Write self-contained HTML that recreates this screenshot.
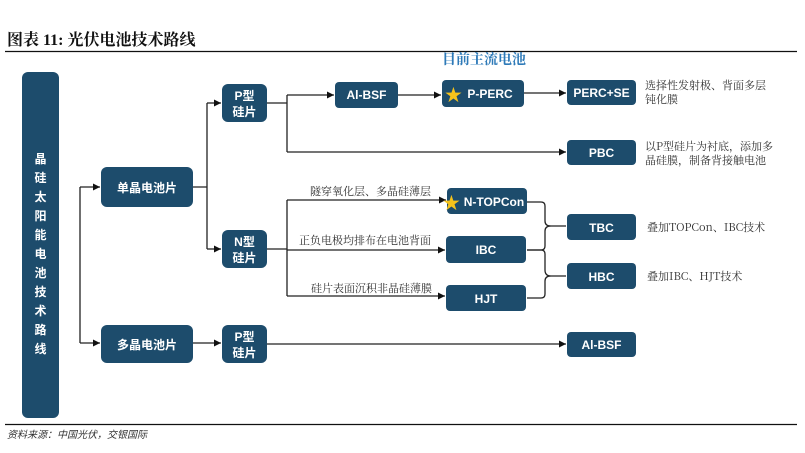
<!DOCTYPE html>
<html><head><meta charset="utf-8"><style>
body{margin:0;background:#fff;width:805px;height:453px;overflow:hidden}
svg{display:block}
.b{fill:#1d4c6c}
.w{fill:#fff;font-family:"Liberation Sans","Noto Sans CJK SC",sans-serif;font-size:12px;font-weight:bold;text-anchor:middle}
.d{fill:#333;font-family:"Noto Serif CJK SC","Noto Sans CJK SC",serif;font-size:11px}
.l{stroke:#222;stroke-width:1.3;fill:none}
</style></head><body>
<svg width="805" height="453" viewBox="0 0 805 453">
<defs><marker id="a" markerWidth="8" markerHeight="8" refX="7" refY="4" orient="auto" markerUnits="userSpaceOnUse"><path d="M0,0.5 L7,4 L0,7.5z" fill="#111"/></marker></defs>
<text x="7" y="45" font-family="Liberation Serif,'Noto Serif CJK SC',serif" font-size="16" font-weight="bold" fill="#111">图表 11: 光伏电池技术路线</text>
<line x1="5" y1="51.5" x2="797" y2="51.5" stroke="#111" stroke-width="1.3"/>
<text x="442" y="64" font-family="'Noto Serif CJK SC',serif" font-size="14" font-weight="bold" fill="#2e7ab8">目前主流电池</text>
<rect class="b" x="22" y="72" width="37" height="346" rx="6"/>
<text class="w" font-size="14" x="40.5"><tspan x="40.5" y="163">晶</tspan><tspan x="40.5" y="182">硅</tspan><tspan x="40.5" y="201">太</tspan><tspan x="40.5" y="220">阳</tspan><tspan x="40.5" y="239">能</tspan><tspan x="40.5" y="258">电</tspan><tspan x="40.5" y="277">池</tspan><tspan x="40.5" y="296">技</tspan><tspan x="40.5" y="315">术</tspan><tspan x="40.5" y="334">路</tspan><tspan x="40.5" y="353">线</tspan></text>
<path class="l" d="M80,187 V343"/>
<path class="l" d="M80,187 H100" marker-end="url(#a)"/>
<path class="l" d="M80,343 H100" marker-end="url(#a)"/>
<path class="l" d="M193,187 H207 M207,103 V249"/>
<path class="l" d="M207,103 H221" marker-end="url(#a)"/>
<path class="l" d="M207,249 H221" marker-end="url(#a)"/>
<path class="l" d="M193,343 H221" marker-end="url(#a)"/>
<path class="l" d="M267,103 H287 M287,95 V152"/>
<path class="l" d="M287,95 H334" marker-end="url(#a)"/>
<path class="l" d="M287,152 H566" marker-end="url(#a)"/>
<path class="l" d="M398,95 H441" marker-end="url(#a)"/>
<path class="l" d="M523,93 H566" marker-end="url(#a)"/>
<path class="l" d="M267,249 H287 M287,200 V296"/>
<path class="l" d="M287,200 H446" marker-end="url(#a)"/>
<path class="l" d="M287,250 H445" marker-end="url(#a)"/>
<path class="l" d="M287,296 H445" marker-end="url(#a)"/>
<path class="l" d="M267,344 H566" marker-end="url(#a)"/>
<path class="l" d="M527,202 H541 Q545,202 545,206 V221 Q545,226 551,226 H566 M545,231 Q545,226 551,226 M527,250 H541 Q545,250 545,246 V231"/>
<path class="l" d="M527,250 H541 Q545,250 545,254 V270 Q545,276 551,276 H566 M545,281 Q545,276 551,276 M527,298 H541 Q545,298 545,294 V281"/>
<rect class="b" x="101" y="167" width="92" height="40" rx="6"/><text class="w" x="147" y="192">单晶电池片</text>
<rect class="b" x="101" y="325" width="92" height="38" rx="6"/><text class="w" x="147" y="349">多晶电池片</text>
<rect class="b" x="222" y="84" width="45" height="38" rx="6"/><text class="w"><tspan x="244.5" y="100">P型</tspan><tspan x="244.5" y="116">硅片</tspan></text>
<rect class="b" x="222" y="230" width="45" height="38" rx="6"/><text class="w"><tspan x="244.5" y="246">N型</tspan><tspan x="244.5" y="262">硅片</tspan></text>
<rect class="b" x="222" y="325" width="45" height="38" rx="6"/><text class="w"><tspan x="244.5" y="341">P型</tspan><tspan x="244.5" y="357">硅片</tspan></text>
<rect class="b" x="335" y="82" width="63" height="26" rx="4"/><text class="w" x="366.5" y="99">Al-BSF</text>
<rect class="b" x="442" y="80" width="82" height="27" rx="4"/><text class="w" x="490" y="98">P-PERC</text>
<text x="444" y="102" font-size="21" fill="#f5c21b" font-family="DejaVu Sans,sans-serif">★</text>
<rect class="b" x="567" y="80" width="69" height="25" rx="4"/><text class="w" x="601.5" y="97">PERC+SE</text>
<rect class="b" x="567" y="140" width="69" height="25" rx="4"/><text class="w" x="601.5" y="157">PBC</text>
<rect class="b" x="447" y="188" width="80" height="26" rx="4"/><text class="w" x="494" y="206">N-TOPCon</text>
<text x="442" y="210" font-size="21" fill="#f5c21b" font-family="DejaVu Sans,sans-serif">★</text>
<rect class="b" x="446" y="236" width="80" height="27" rx="4"/><text class="w" x="486" y="254">IBC</text>
<rect class="b" x="446" y="285" width="80" height="26" rx="4"/><text class="w" x="486" y="303">HJT</text>
<rect class="b" x="567" y="214" width="69" height="26" rx="4"/><text class="w" x="601.5" y="232">TBC</text>
<rect class="b" x="567" y="263" width="69" height="26" rx="4"/><text class="w" x="601.5" y="281">HBC</text>
<rect class="b" x="567" y="332" width="69" height="25" rx="4"/><text class="w" x="601.5" y="349">Al-BSF</text>
<text class="d" x="645" y="89">选择性发射极、背面多层</text>
<text class="d" x="645" y="103">钝化膜</text>
<text class="d" x="645" y="150">以P型硅片为衬底，添加多</text>
<text class="d" x="645" y="164">晶硅膜，制备背接触电池</text>
<text class="d" x="647" y="231">叠加TOPCon、IBC技术</text>
<text class="d" x="647" y="280">叠加IBC、HJT技术</text>
<text class="d" x="310" y="195">隧穿氧化层、多晶硅薄层</text>
<text class="d" x="299" y="244">正负电极均排布在电池背面</text>
<text class="d" x="311" y="292">硅片表面沉积非晶硅薄膜</text>
<line x1="5" y1="424.5" x2="797" y2="424.5" stroke="#111" stroke-width="1.3"/>
<text x="7" y="438" font-family="'Noto Sans CJK SC',sans-serif" font-size="10" font-style="italic" fill="#333">资料来源：中国光伏，交银国际</text>
</svg>
</body></html>
